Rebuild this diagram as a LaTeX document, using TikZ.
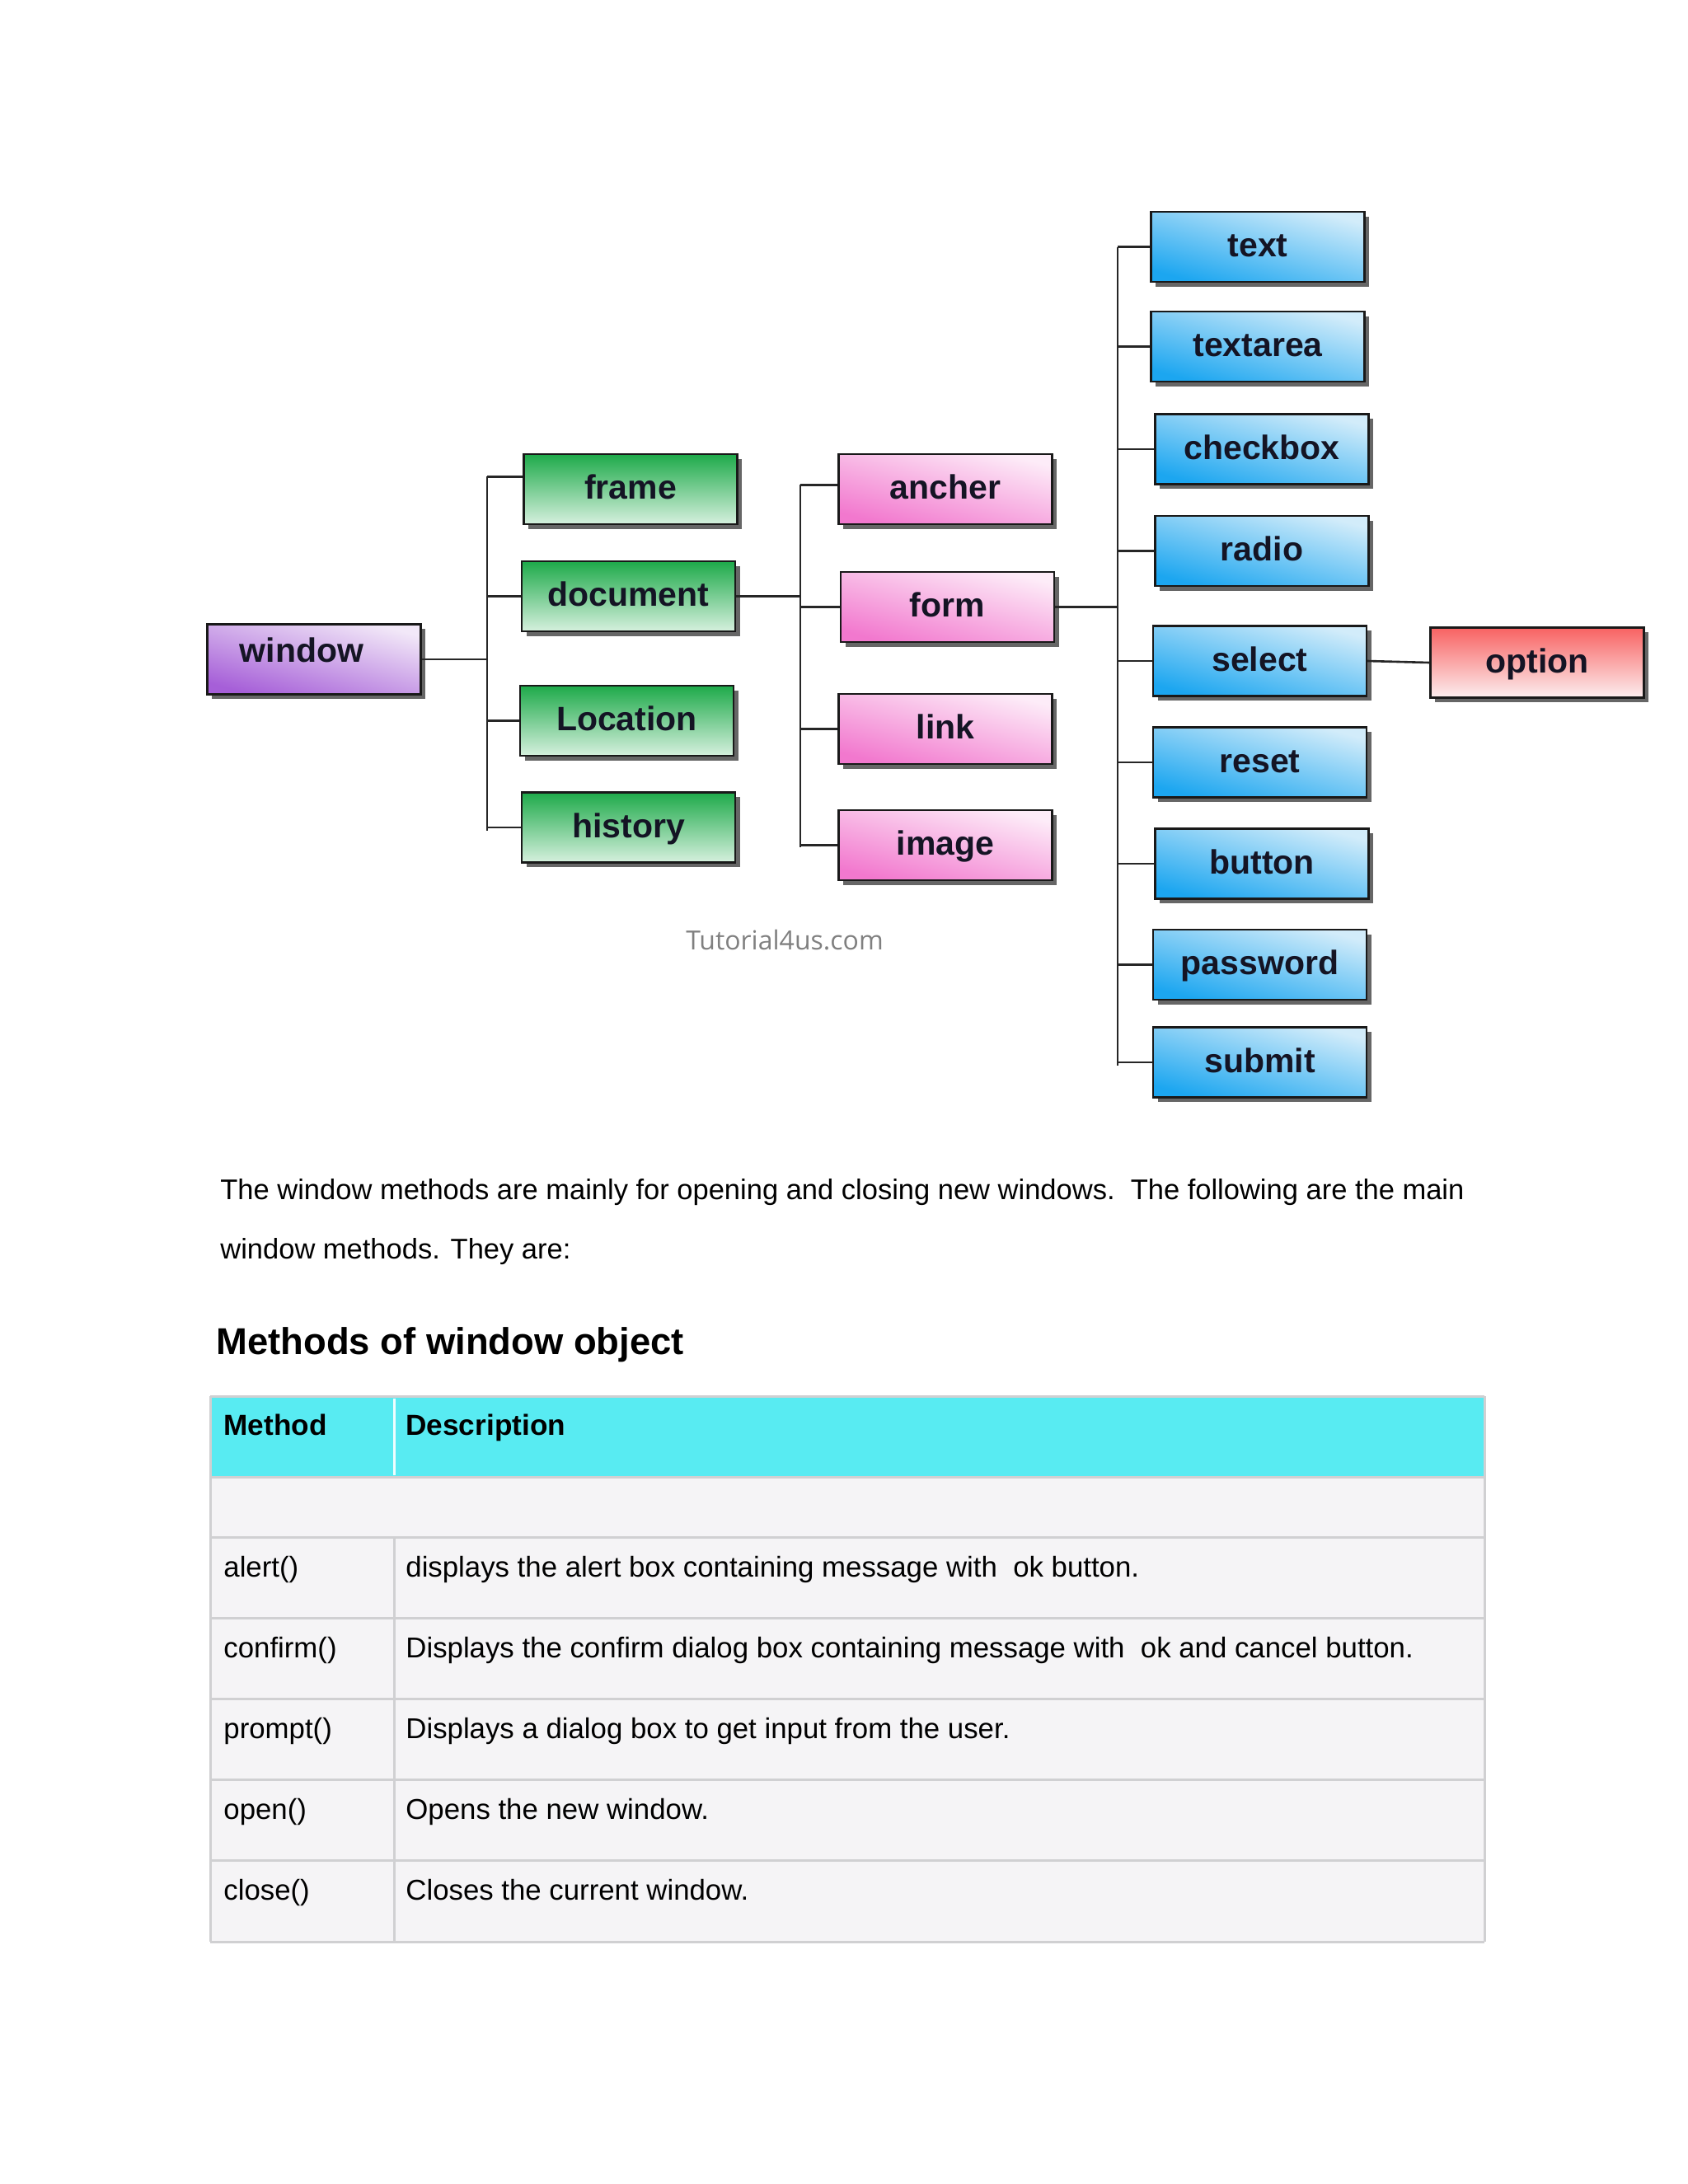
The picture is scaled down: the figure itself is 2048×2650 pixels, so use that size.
\documentclass[tikz,border=0pt]{standalone}
\usepackage{fontspec}
\setmainfont{Liberation Sans}
\newfontfamily\wmfont{Open Sans}
\usetikzlibrary{shadows}
\definecolor{labelc}{RGB}{20,20,36}
\definecolor{purd}{RGB}{166,95,216}
\definecolor{purl}{RGB}{242,232,248}
\definecolor{pinkd}{RGB}{242,120,206}
\definecolor{pinkl}{RGB}{253,236,248}
\definecolor{blued}{RGB}{28,166,240}
\definecolor{bluel}{RGB}{210,236,250}
\definecolor{greend}{RGB}{30,170,74}
\definecolor{greenl}{RGB}{214,240,222}
\definecolor{redd}{RGB}{248,98,98}
\definecolor{redl}{RGB}{252,238,239}
\definecolor{cyanh}{RGB}{88,235,242}
\definecolor{rowgray}{RGB}{245,244,246}
\definecolor{tblline}{RGB}{208,208,210}
\newcommand{\parafont}{\fontsize{17.25}{21}\selectfont}
\newcommand{\tblfont}{\fontsize{17.4}{21}\selectfont}
\newcommand{\headfont}{\fontsize{22.7}{27}\bfseries\selectfont}
\tikzset{
  lbl/.style={draw=black!90, line width=1.1pt, minimum width=129.5pt, minimum height=42.5pt,
    inner sep=0pt, font=\fontsize{20.5}{24}\bfseries\selectfont, text=labelc,
    text height=16pt, text depth=4pt,
    drop shadow={shadow xshift=2.8pt, shadow yshift=-2.8pt, fill=black!70, opacity=0.85}},
  purbox/.style={lbl, bottom color=purd, top color=purl, shading angle=-15},
  pinkbox/.style={lbl, bottom color=pinkd, top color=pinkl, shading angle=-15},
  bluebox/.style={lbl, bottom color=blued, top color=bluel, shading angle=-15},
  greenbox/.style={lbl, top color=greend, bottom color=greenl},
  redbox/.style={lbl, top color=redd, bottom color=redl},
  conn/.style={draw=black!85, line width=1.3pt},
  para/.style={anchor=base west, inner sep=0pt, font=\parafont, text=black},
  tcell/.style={anchor=base west, inner sep=0pt, font=\tblfont, text=black},
  thead/.style={anchor=base west, inner sep=0pt, font=\fontsize{17.6}{21}\bfseries\selectfont, text=black},
  tline/.style={draw=tblline, line width=1.5pt}
}
\begin{document}
\begin{tikzpicture}[x=0.5pt,y=-0.5pt]
\fill[white] (0,0) rectangle (2048,2650);
\useasboundingbox (0,0) rectangle (2048,2650);

% ---- diagram nodes ----
\node[purbox, text height=12pt, text depth=9pt] (window) at (381,800) {\hspace*{-15pt}window};
\node[greenbox] (frame) at (765,593.5) {frame};
\node[greenbox] (document) at (762.5,723.5) {document};
\node[greenbox] (location) at (760.5,874.5) {Location};
\node[greenbox] (history) at (762.5,1004) {history};
\node[pinkbox] (ancher) at (1147,593.5) {ancher};
\node[pinkbox] (form) at (1149.5,736.5) {form};
\node[pinkbox] (link) at (1147,884.5) {link};
\node[pinkbox] (image) at (1147,1025.5) {image};
\node[bluebox] (text) at (1526,299.5) {text};
\node[bluebox] (textarea) at (1526,420.5) {textarea};
\node[bluebox] (checkbox) at (1531,545) {checkbox};
\node[bluebox] (radio) at (1531,668.5) {radio};
\node[bluebox] (select) at (1528.5,802) {select};
\node[bluebox] (reset) at (1528.5,925) {reset};
\node[bluebox] (button) at (1531,1048) {button};
\node[bluebox] (password) at (1528.5,1170.5) {password};
\node[bluebox] (submit) at (1528.5,1289) {submit};
\node[redbox] (option) at (1865,804) {option};

% ---- trunks ----
\coordinate (gT) at (591,578);
\coordinate (gB) at (591,1008);
\coordinate (pT) at (971,588);
\coordinate (pB) at (971,1028);
\coordinate (bT) at (1356,299.5);
\coordinate (bB) at (1356,1293);
\draw[conn] (gT) -- (gB);
\draw[conn] (pT) -- (pB);
\draw[conn] (bT) -- (bB);

% ---- connectors ----
\draw[conn] (window.east) -- (window.east -| gT);
\draw[conn] ([yshift=7.5pt]frame.west) -- ([yshift=7.5pt]frame.west -| gT);
\draw[conn] (document.west) -- (document.west -| gT);
\draw[conn] (location.west) -- (location.west -| gT);
\draw[conn] (history.west) -- (history.west -| gT);
\draw[conn] (document.east) -- (document.east -| pT);
\draw[conn] ([yshift=2.5pt]ancher.west) -- ([yshift=2.5pt]ancher.west -| pT);
\draw[conn] (form.west) -- (form.west -| pT);
\draw[conn] (link.west) -- (link.west -| pT);
\draw[conn] (image.west) -- (image.west -| pT);
\draw[conn] (form.east) -- (form.east -| bT);
\foreach \n in {text,textarea,checkbox,radio,select,reset,button,password,submit}{
  \draw[conn] (\n.west) -- (\n.west -| bT);
}
\draw[conn] (select.east) -- (option.west);

\node[font=\wmfont\fontsize{16}{19}\selectfont, text=black!50, inner sep=0pt] (wm) at (952,1141) {Tutorial4us.com};

% ---- paragraph ----
\node[para] (p1) at (267,1455) {The window methods are mainly for opening and closing new windows.\ \ The following are the main};
\node[para] (p2) at (267,1527) {window methods. They are:};
\node[anchor=base west, inner sep=0pt, font=\headfont] (head) at (262,1643) {Methods of window object};

% ---- table ----
\fill[rowgray] (255,1792) rectangle (1801,2356);
\fill[cyanh] (255,1694) rectangle (1801,1792);
\draw[tline] (255,1694) -- (1801,1694);
\foreach \yy in {1792,1865,1963,2061,2159,2257,2356}{
  \draw[tline] (255,\yy) -- (1801,\yy);
}
\draw[tline] (255,1694) -- (255,2356);
\draw[tline] (1801,1694) -- (1801,2356);
\draw[tline] (478,1865) -- (478,2356);
\draw[draw=white!90!cyanh, line width=1.5pt] (478,1697) -- (478,1790);

\node[thead] (hm) at (271,1741) {Method};
\node[thead] (hd) at (492,1741) {Description};
\node[tcell] (m1) at (271,1913) {alert()};
\node[tcell] (d1) at (492,1913) {displays the alert box containing message with\ \ ok button.};
\node[tcell] (m2) at (271,2011) {confirm()};
\node[tcell] (d2) at (492,2011) {Displays the confirm dialog box containing message with\ \ ok and cancel button.};
\node[tcell] (m3) at (271,2109) {prompt()};
\node[tcell] (d3) at (492,2109) {Displays a dialog box to get input from the user.};
\node[tcell] (m4) at (271,2207) {open()};
\node[tcell] (d4) at (492,2207) {Opens the new window.};
\node[tcell] (m5) at (271,2305) {close()};
\node[tcell] (d5) at (492,2305) {Closes the current window.};
\end{tikzpicture}
\end{document}
